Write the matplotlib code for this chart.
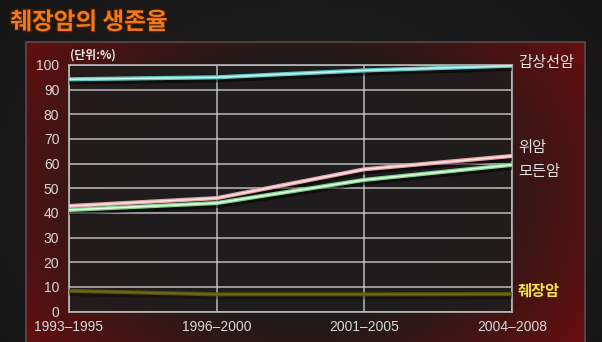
import numpy as np
import matplotlib.pyplot as plt
import matplotlib.patheffects as pe

plt.rcParams['font.family'] = ['Liberation Sans', 'Noto Sans CJK KR', 'DejaVu Sans']

periods = ['1993\u20131995', '1996\u20132000', '2001\u20132005', '2004\u20132008']
thyroid = [94.2, 95.0, 97.8, 99.7]
stomach = [42.8, 46.0, 57.7, 63.1]
all_cancer = [41.2, 44.0, 53.4, 59.5]
pancreas = [8.4, 7.0, 7.0, 7.1]

series_names = ['갑상선암', '위암', '모든암', '췌장암']
kr = ['Noto Sans CJK KR', 'DejaVu Sans']

fig = plt.figure(figsize=(6.02, 3.42), dpi=100)
fig.patch.set_facecolor('#141414')

# background: dark with a reddish vignette panel
bg = fig.add_axes([0, 0, 1, 1])
bg.set_xlim(0, 602)
bg.set_ylim(342, 0)
bg.axis('off')
yy, xx = np.mgrid[0:342, 0:602]
cx, cy = 300, 190
d = np.sqrt(((xx - cx) / 290.0) ** 2 + ((yy - cy) / 230.0) ** 2)
base = np.zeros((342, 602, 3))
base[..., 0] = 0.10 + 0.03 * (1 - d)
base[..., 1] = 0.095 + 0.03 * (1 - d)
base[..., 2] = 0.095 + 0.03 * (1 - d)
panel = (xx >= 26) & (xx <= 585) & (yy >= 42)
red = np.clip(d - 0.55, 0, 1)
base[..., 0] = np.where(panel, 0.12 + 0.45 * red, base[..., 0])
base[..., 1] = np.where(panel, 0.105 - 0.08 * red, base[..., 1])
base[..., 2] = np.where(panel, 0.105 - 0.08 * red, base[..., 2])
bg.imshow(np.clip(base, 0, 1), extent=(0, 602, 342, 0), aspect='auto')
bg.plot([26, 26, 585, 585], [342, 42, 42, 342], color='#5a4a4a', lw=1.2)

fig.text(0.017, 0.935, '췌장암의 생존율', color='#f07a1a', fontsize=17, family=kr,
         fontweight='bold', va='center', ha='left',
         path_effects=[pe.withStroke(linewidth=2, foreground='#3a1a00')])

ax = fig.add_axes([0.1146, 0.089, 0.7359, 0.721])
ax.set_facecolor((0.12, 0.115, 0.115, 0.85))
x = np.arange(len(periods))


def glow_line(vals, color, core, alpha=1.0, shadow=0.5):
    ax.plot(x, np.array(vals) - 0.7, color='black', lw=5, alpha=shadow, solid_capstyle='butt', zorder=3)
    ax.plot(x, vals, color=color, lw=3.0, alpha=alpha, solid_capstyle='butt', zorder=4)
    ax.plot(x, vals, color=core, lw=1.1, alpha=alpha, solid_capstyle='butt', zorder=5)


glow_line(thyroid, '#5fc9c2', '#c8f4f0')
glow_line(stomach, '#e8a4a8', '#fbe4e4')
glow_line(all_cancer, '#7fd58a', '#e8fbe8')
glow_line(pancreas, '#5e5910', '#7a7418', alpha=0.85, shadow=0.3)

ax.set_xlim(0, 3)
ax.set_ylim(0, 100)
ax.set_yticks(range(0, 101, 10))
ax.set_xticks(x)
ax.set_xticklabels(periods)
ax.grid(True, color='#c8c8c8', lw=1.2, alpha=0.85)
ax.set_axisbelow(True)
for s in ax.spines.values():
    s.set_color('#b8b8b8')
    s.set_linewidth(1.2)
ax.tick_params(length=0, colors='#d8d8d8', labelsize=10)
ax.tick_params(axis='y', pad=7)
ax.tick_params(axis='x', pad=6)

ax.text(0.01, 101.5, '(단위:%)', color='#e8e8e8', fontsize=8.5, family=kr, fontweight='bold',
        va='bottom', ha='left')

ax.text(3.04, 101, series_names[0], color='#e0e0e0', fontsize=11, family=kr, va='center', ha='left', clip_on=False)
ax.text(3.04, 66.5, series_names[1], color='#e0e0e0', fontsize=11, family=kr, va='center', ha='left', clip_on=False)
ax.text(3.04, 57, series_names[2], color='#e0e0e0', fontsize=11, family=kr, va='center', ha='left', clip_on=False)
ax.text(3.04, 8.5, series_names[3], color='#f2e23a', fontsize=11, family=kr, fontweight='bold', va='center', ha='left', clip_on=False)

fig.savefig('out.png', dpi=100, facecolor=fig.get_facecolor())
